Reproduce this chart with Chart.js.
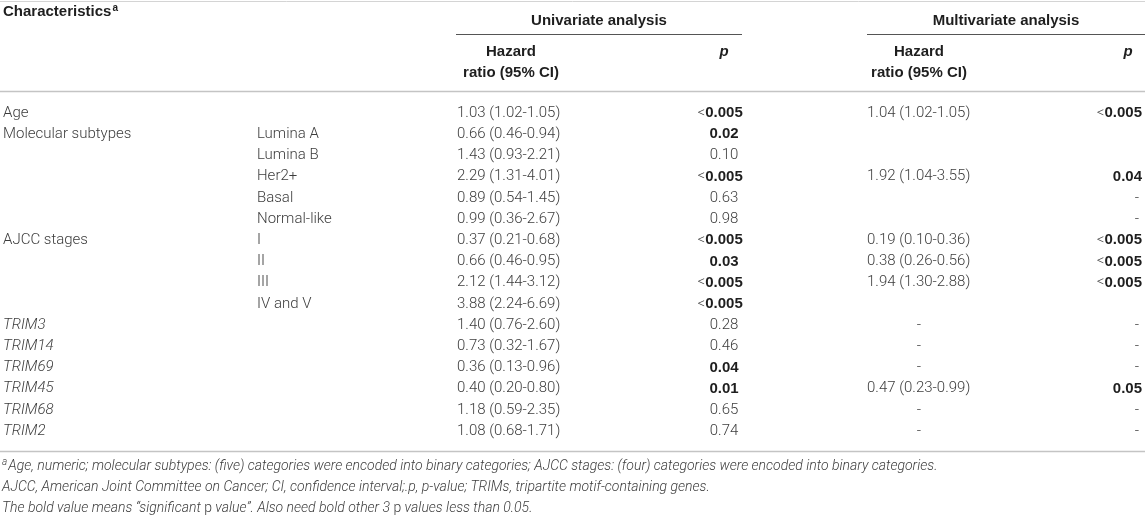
<!DOCTYPE html>
<html>
<head>
<meta charset="utf-8">
<script src="https://cdn.jsdelivr.net/npm/chart.js@4.4.0/dist/chart.umd.min.js"></script>
<style>
  html, body { margin: 0; padding: 0; background: #fff; }
  #wrap { width: 1145px; height: 517px; position: relative; }
</style>
</head>
<body>
<div id="wrap"><canvas id="chart-1"></canvas></div>
<script>
const characteristics = ["Age", "Molecular subtypes", "", "", "", "", "AJCC stages", "", "", "", "TRIM3", "TRIM14", "TRIM69", "TRIM45", "TRIM68", "TRIM2"];
const subgroups = ["", "Lumina A", "Lumina B", "Her2+", "Basal", "Normal-like", "I", "II", "III", "IV and V", "", "", "", "", "", ""];
const uniHazard = [
  "1.03 (1.02-1.05)", "0.66 (0.46-0.94)", "1.43 (0.93-2.21)", "2.29 (1.31-4.01)",
  "0.89 (0.54-1.45)", "0.99 (0.36-2.67)", "0.37 (0.21-0.68)", "0.66 (0.46-0.95)",
  "2.12 (1.44-3.12)", "3.88 (2.24-6.69)", "1.40 (0.76-2.60)", "0.73 (0.32-1.67)",
  "0.36 (0.13-0.96)", "0.40 (0.20-0.80)", "1.18 (0.59-2.35)", "1.08 (0.68-1.71)",
];
const uniP = ["<0.005", "0.02", "0.10", "<0.005", "0.63", "0.98", "<0.005", "0.03", "<0.005", "<0.005", "0.28", "0.46", "0.04", "0.01", "0.65", "0.74"];
const multiHazard = [
  "1.04 (1.02-1.05)", "", "", "1.92 (1.04-3.55)", "", "", "0.19 (0.10-0.36)", "0.38 (0.26-0.56)",
  "1.94 (1.30-2.88)", "", "-", "-", "-", "0.47 (0.23-0.99)", "-", "-",
];
const multiP = ["<0.005", "", "", "0.04", "-", "-", "<0.005", "<0.005", "<0.005", "", "-", "-", "-", "0.05", "-", "-"];
const groupTitles = ["Univariate analysis", "Multivariate analysis"];
const hazardHeader = ["Hazard", "ratio (95% CI)"];
// text between | | is drawn upright
const footnotes = [
  "Age, numeric; molecular subtypes: (five) categories were encoded into binary categories; AJCC stages: (four) categories were encoded into binary categories.",
  "AJCC, American Joint Committee on Cancer; CI, confidence interval;.p, p-value; TRIMs, tripartite motif-containing genes.",
  "The bold value means \u201csignificant |p| value\u201d. Also need bold other 3 |p| values less than 0.05.",
];
const footnoteMarks = ["a", "", ""];

// layout: y axis runs in row units, first data row = 0
const FIRST_ROW_PX = 113;
const ROW_PX = 21.2;
const HEIGHT_PX = 517;
const Y_MIN = -FIRST_ROW_PX / ROW_PX;
const Y_MAX = Y_MIN + HEIGHT_PX / ROW_PX;
const rowOf = (px) => (px - FIRST_ROW_PX) / ROW_PX;

const COL = { name: 3, group: 257, uniHr: 457, uniHrMid: 511, uniP: 724, multiHr: 867, multiHrMid: 919, multiP: 1142, multiPHead: 1128 };
const SPAN = { uni: [456, 742], multi: [867, 1145] };

const TEXT = "#3c3c3c";
const DARK = "#1e1e1e";
const REG = '300 15px "Roboto", "Liberation Sans", sans-serif';
const ITAL = 'italic 300 15px "Roboto", "Liberation Sans", sans-serif';
const BOLD = 'bold 15px "Liberation Sans", Arial, sans-serif';
const BOLD_IT = 'italic bold 15px "Liberation Sans", Arial, sans-serif';
const SUP = 'bold 10px "Liberation Sans", Arial, sans-serif';
const NOTE_IT = 'italic 300 14px "Roboto", "Liberation Sans", sans-serif';
const NOTE_UP = '300 14px "Roboto", "Liberation Sans", sans-serif';
const NOTE_SUP = 'italic 300 10px "Roboto", "Liberation Sans", sans-serif';

function isSig(s) {
  const v = parseFloat(s.replace("<", ""));
  return !isNaN(v) && v <= 0.05;
}

const tablePlugin = {
  id: "tableText",
  beforeDraw(chart) {
    const ctx = chart.ctx;
    ctx.save();
    ctx.fillStyle = "#fff";
    ctx.fillRect(0, 0, chart.width, chart.height);
    ctx.restore();
  },
  afterDraw(chart) {
    const ctx = chart.ctx;
    const xs = chart.scales.x;
    const ys = chart.scales.y;
    const X = (v) => xs.getPixelForValue(v);
    const Y = (v) => ys.getPixelForValue(v);
    ctx.save();
    ctx.textBaseline = "middle";

    const hline = (x0, x1, row, color, width) => {
      const py = Math.round(Y(row)) + 0.5;
      ctx.strokeStyle = color;
      ctx.lineWidth = width;
      ctx.beginPath();
      ctx.moveTo(X(x0), py);
      ctx.lineTo(X(x1), py);
      ctx.stroke();
    };
    const text = (s, xv, row, font, color, align) => {
      ctx.font = font;
      ctx.fillStyle = color;
      ctx.textAlign = align;
      ctx.fillText(s, X(xv), Y(row));
    };
    const pCell = (s, xv, row, align) => {
      if (!s) return;
      if (s === "-") {
        text(s, align === "right" ? xv - 3 : xv, row, REG, TEXT, align === "right" ? "right" : "center");
        return;
      }
      const lt = s.startsWith("<");
      const num = lt ? s.slice(1) : s;
      const sig = isSig(s);
      ctx.font = sig ? BOLD : REG;
      const w = ctx.measureText(num).width;
      const left = align === "center" ? X(xv) - w / 2 : X(xv) - w;
      ctx.fillStyle = sig ? DARK : TEXT;
      ctx.textAlign = "left";
      ctx.fillText(num, left, Y(row));
      if (lt) {
        ctx.font = REG;
        ctx.fillStyle = TEXT;
        ctx.textAlign = "right";
        ctx.fillText("<", left, Y(row));
      }
    };

    // rules
    hline(0, 1145, rowOf(1), "#d4d4d4", 1);
    hline(SPAN.uni[0], SPAN.uni[1], rowOf(34), "#555", 1);
    hline(SPAN.multi[0], SPAN.multi[1], rowOf(34), "#555", 1);
    hline(0, 1145, rowOf(91), "#c4c4c4", 1.5);
    hline(0, 1145, rowOf(451), "#c4c4c4", 1.5);

    // header
    text("Characteristics", COL.name, rowOf(12), BOLD, DARK, "left");
    ctx.font = BOLD;
    const cw = ctx.measureText("Characteristics").width;
    text("a", COL.name + cw + 1, rowOf(8), SUP, DARK, "left");
    text(groupTitles[0], (SPAN.uni[0] + SPAN.uni[1]) / 2, rowOf(21), BOLD, DARK, "center");
    text(groupTitles[1], (SPAN.multi[0] + SPAN.multi[1]) / 2, rowOf(21), BOLD, DARK, "center");
    [COL.uniHrMid, COL.multiHrMid].forEach((cx) => {
      text(hazardHeader[0], cx, rowOf(52), BOLD, DARK, "center");
      text(hazardHeader[1], cx, rowOf(73), BOLD, DARK, "center");
    });
    text("p", COL.uniP, rowOf(52), BOLD_IT, DARK, "center");
    text("p", COL.multiPHead, rowOf(52), BOLD_IT, DARK, "center");

    // body rows
    characteristics.forEach((name, i) => {
      if (name) text(name, COL.name, i, /^TRIM/.test(name) ? ITAL : REG, TEXT, "left");
      if (subgroups[i]) text(subgroups[i], COL.group, i, REG, TEXT, "left");
      text(uniHazard[i], COL.uniHr, i, REG, TEXT, "left");
      pCell(uniP[i], COL.uniP, i, "center");
      if (multiHazard[i] === "-") text("-", COL.multiHrMid, i, REG, TEXT, "center");
      else if (multiHazard[i]) text(multiHazard[i], COL.multiHr, i, REG, TEXT, "left");
      pCell(multiP[i], COL.multiP, i, "right");
    });

    // footnotes
    footnotes.forEach((note, k) => {
      const row = rowOf(466 + k * 21);
      let px = X(2);
      if (footnoteMarks[k]) {
        ctx.font = NOTE_SUP;
        ctx.fillStyle = TEXT;
        ctx.textAlign = "left";
        ctx.fillText(footnoteMarks[k], px, Y(row) - 4);
        px += ctx.measureText(footnoteMarks[k]).width + 1;
      }
      note.split("|").forEach((part, j) => {
        ctx.font = j % 2 ? NOTE_UP : NOTE_IT;
        ctx.fillStyle = TEXT;
        ctx.textAlign = "left";
        ctx.fillText(part, px, Y(row));
        px += ctx.measureText(part).width;
      });
    });
    ctx.restore();
  },
};

new Chart(document.getElementById("chart-1"), {
  type: "scatter",
  data: {
    datasets: [
      {
        label: "rows",
        data: characteristics.map((_, i) => ({ x: 0, y: i })),
        pointRadius: 0,
      },
    ],
  },
  options: {
    responsive: true,
    maintainAspectRatio: false,
    animation: false,
    events: [],
    layout: { padding: 0 },
    plugins: {
      legend: { display: false },
      tooltip: { enabled: false },
    },
    scales: {
      x: { type: "linear", display: false, min: 0, max: 1145 },
      y: { type: "linear", display: false, reverse: true, min: Y_MIN, max: Y_MAX },
    },
  },
  plugins: [tablePlugin],
});
</script>
</body>
</html>
